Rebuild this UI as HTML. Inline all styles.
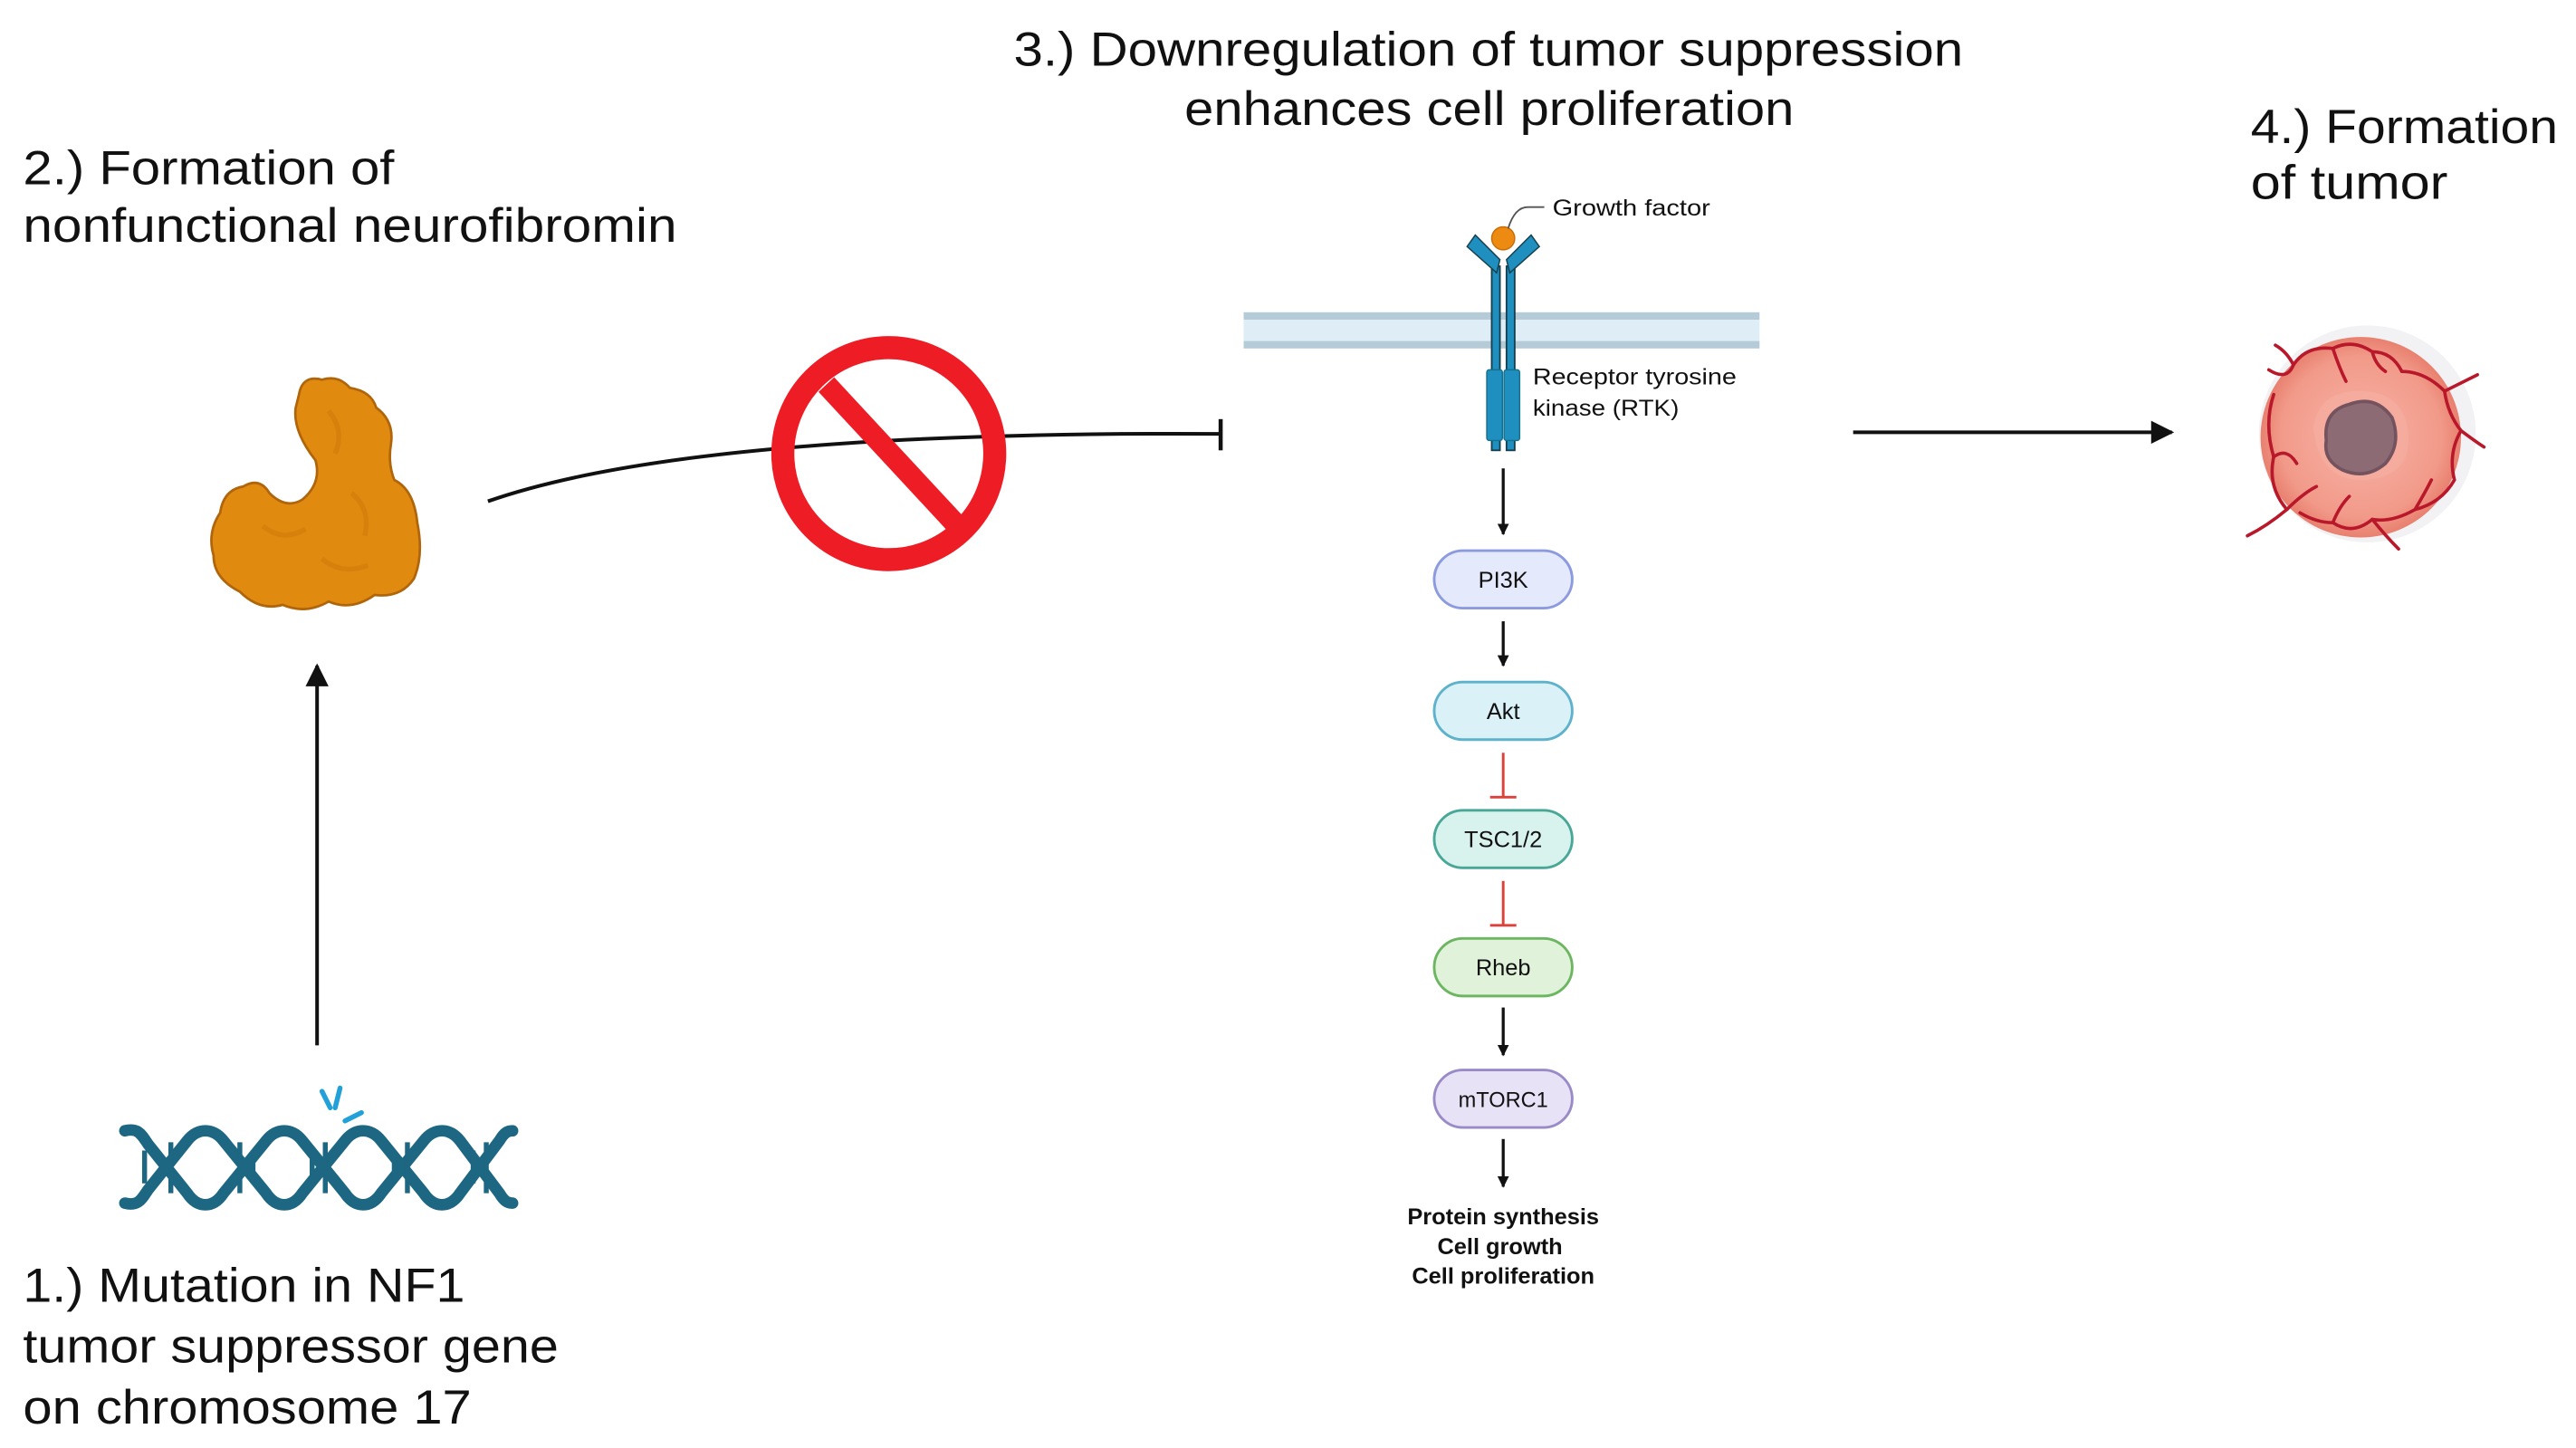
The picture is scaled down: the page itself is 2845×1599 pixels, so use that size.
<!DOCTYPE html>
<html><head><meta charset="utf-8"><style>
html,body{margin:0;padding:0;background:#fff;}
svg{display:block}
text{font-family:"Liberation Sans",sans-serif;fill:#111}
</style></head><body>
<svg width="2845" height="1599" viewBox="0 0 1568 881" preserveAspectRatio="none" xmlns="http://www.w3.org/2000/svg">
<defs>
<marker id="ah" viewBox="0 0 10 10" refX="9" refY="5" markerWidth="7" markerHeight="7" orient="auto" markerUnits="userSpaceOnUse"><path d="M0,0 L10,5 L0,10 z" fill="#111"/></marker>
<marker id="ahb" viewBox="0 0 10 10" refX="9" refY="5" markerWidth="16" markerHeight="14" orient="auto" markerUnits="userSpaceOnUse"><path d="M0,0 L10,5 L0,10 z" fill="#111"/></marker>
<radialGradient id="tg" cx="50%" cy="50%" r="50%"><stop offset="0" stop-color="#f6b3a6"/><stop offset="0.8" stop-color="#f29a8a"/><stop offset="1" stop-color="#e8806f"/></radialGradient>
</defs>
<rect width="1568" height="881" fill="#fff"/>

<!-- Titles -->
<text x="617" y="40" font-size="29" textLength="578" lengthAdjust="spacingAndGlyphs">3.) Downregulation of tumor suppression</text>
<text x="721" y="76" font-size="29" textLength="371" lengthAdjust="spacingAndGlyphs">enhances cell proliferation</text>
<text x="14" y="112" font-size="29" textLength="226" lengthAdjust="spacingAndGlyphs">2.) Formation of</text>
<text x="14" y="147" font-size="29" textLength="398" lengthAdjust="spacingAndGlyphs">nonfunctional neurofibromin</text>
<text x="1370" y="87" font-size="29" textLength="187" lengthAdjust="spacingAndGlyphs">4.) Formation</text>
<text x="1370" y="121" font-size="29" textLength="120" lengthAdjust="spacingAndGlyphs">of tumor</text>
<text x="14" y="792" font-size="29" textLength="269" lengthAdjust="spacingAndGlyphs">1.) Mutation in NF1</text>
<text x="14" y="829" font-size="29" textLength="326" lengthAdjust="spacingAndGlyphs">tumor suppressor gene</text>
<text x="14" y="866" font-size="29" textLength="273" lengthAdjust="spacingAndGlyphs">on chromosome 17</text>

<!-- Protein blob -->
<path d="M182,240 Q184,228 196,231 Q206,228 213,236 Q226,238 229,248 Q240,256 238,270 Q236,282 240,292 Q252,298 254,318 Q258,338 252,352 Q244,364 228,362 Q214,372 200,366 Q186,374 172,368 Q158,372 146,360 Q130,352 130,338 Q126,324 134,312 Q136,298 148,296 Q158,290 164,300 Q174,310 184,304 Q196,294 192,280 Q178,262 180,248 Z" fill="#e08a10" stroke="#b0650a" stroke-width="1.5"/>
<path d="M200,250 Q210,262 204,276 M214,300 Q226,310 222,326 M160,320 Q172,330 186,322 M196,340 Q208,350 224,344" stroke="#d07a08" stroke-width="3" fill="none" opacity="0.6"/>

<!-- Up arrow -->
<line x1="193" y1="636" x2="193" y2="405" stroke="#111" stroke-width="2.2" marker-end="url(#ahb)"/>

<!-- DNA -->
<g stroke="#1d6782" stroke-width="7" fill="none" stroke-linecap="round" stroke-linejoin="round">
<path d="M76,688 C84,686 86,690 90,696 L114,726 C118,732 122,733 125,733 C128,733 132,732 136,726 L162,694 C166,689 170,688 173,688 C176,688 180,689 184,694 L210,726 C214,732 218,733 221,733 C224,733 228,732 232,726 L258,694 C262,689 266,688 269,688 C272,688 276,689 280,694 L304,726 C307,731 309,732 312,732"/>
<path d="M76,732 C84,734 86,730 90,724 L114,694 C118,689 122,688 125,688 C128,688 132,689 136,694 L162,726 C166,732 170,733 173,733 C176,733 180,732 184,726 L210,694 C214,689 218,688 221,688 C224,688 228,689 232,694 L258,726 C262,732 266,733 269,733 C272,733 276,732 280,726 L304,694 C307,689 309,688 312,688"/>
</g>
<g stroke="#1d6782" stroke-width="3">
<line x1="88" y1="700" x2="88" y2="720"/><line x1="104" y1="695" x2="104" y2="726"/>
<line x1="146" y1="695" x2="146" y2="726"/><line x1="154" y1="700" x2="154" y2="720"/>
<line x1="190" y1="700" x2="190" y2="720"/><line x1="198" y1="695" x2="198" y2="726"/>
<line x1="240" y1="700" x2="240" y2="720"/><line x1="248" y1="695" x2="248" y2="726"/>
<line x1="288" y1="700" x2="288" y2="720"/><line x1="296" y1="695" x2="296" y2="726"/>
</g>
<g stroke="#22a0d8" stroke-width="3" stroke-linecap="round">
<line x1="196" y1="664" x2="201" y2="674"/><line x1="207" y1="662" x2="204" y2="674"/><line x1="220" y1="677" x2="210" y2="682"/>
</g>

<!-- Inhibition curve -->
<path d="M297,305 Q420,262 743,264" stroke="#111" stroke-width="2.2" fill="none"/>
<line x1="743" y1="255" x2="743" y2="274" stroke="#111" stroke-width="2.5"/>
<!-- Stop sign -->
<circle cx="541" cy="276" r="64.5" stroke="#ee1c24" stroke-width="14" fill="none"/>
<line x1="503" y1="234" x2="581" y2="318" stroke="#ee1c24" stroke-width="13"/>

<!-- Membrane -->
<rect x="757" y="190" width="314" height="22" fill="#deedf6"/>
<rect x="757" y="190" width="314" height="4.5" fill="#b6cbd8"/>
<rect x="757" y="207.5" width="314" height="4.5" fill="#b6cbd8"/>

<!-- Receptor -->
<g>
<rect x="908" y="162" width="5" height="112" fill="#1e8fbf" stroke="#163e4c" stroke-width="1"/>
<rect x="917" y="162" width="5" height="112" fill="#1e8fbf" stroke="#163e4c" stroke-width="1"/>
<path d="M893,150 L898,143 L913,158 L911,166 Z" fill="#1e8fbf" stroke="#163e4c" stroke-width="0.8"/>
<path d="M937,150 L932,143 L917,158 L919,166 Z" fill="#1e8fbf" stroke="#163e4c" stroke-width="0.8"/>
<rect x="905" y="225" width="9.5" height="43" rx="1.5" fill="#1e8fbf" stroke="#14708f" stroke-width="0.8"/>
<rect x="915.5" y="225" width="9.5" height="43" rx="1.5" fill="#1e8fbf" stroke="#14708f" stroke-width="0.8"/>
<circle cx="915" cy="145" r="7" fill="#ec8a12" stroke="#c96d06" stroke-width="0.8"/>
<path d="M918,139 Q922,126 930,126 L940,126" stroke="#555" stroke-width="1" fill="none"/>
</g>
<text x="945" y="131" font-size="14" fill="#333" textLength="96" lengthAdjust="spacingAndGlyphs">Growth factor</text>
<text x="933" y="234" font-size="14" fill="#333" textLength="124" lengthAdjust="spacingAndGlyphs">Receptor tyrosine</text>
<text x="933" y="253" font-size="14" fill="#333" textLength="89" lengthAdjust="spacingAndGlyphs">kinase (RTK)</text>

<!-- Pathway arrows -->
<g stroke="#111" stroke-width="1.8">
<line x1="915" y1="285" x2="915" y2="325" marker-end="url(#ah)"/>
<line x1="915" y1="378" x2="915" y2="405" marker-end="url(#ah)"/>
<line x1="915" y1="613" x2="915" y2="642" marker-end="url(#ah)"/>
<line x1="915" y1="693" x2="915" y2="722" marker-end="url(#ah)"/>
</g>
<g stroke="#e0403a" stroke-width="1.6">
<line x1="915" y1="458" x2="915" y2="485"/><line x1="907" y1="485" x2="923" y2="485"/>
<line x1="915" y1="536" x2="915" y2="563"/><line x1="907" y1="563" x2="923" y2="563"/>
</g>

<!-- Pills -->
<g font-size="14" text-anchor="middle">
<rect x="873" y="335" width="84" height="35" rx="17.5" fill="#e4e9fb" stroke="#8c9be0" stroke-width="1.6"/>
<text x="915" y="357.5" fill="#333">PI3K</text>
<rect x="873" y="415" width="84" height="35" rx="17.5" fill="#daf1f8" stroke="#5fb2cc" stroke-width="1.6"/>
<text x="915" y="437.5" fill="#333">Akt</text>
<rect x="873" y="493" width="84" height="35" rx="17.5" fill="#d8f2ee" stroke="#48a797" stroke-width="1.6"/>
<text x="915" y="515.5" fill="#333">TSC1/2</text>
<rect x="873" y="571" width="84" height="35" rx="17.5" fill="#e0f3da" stroke="#6cb662" stroke-width="1.6"/>
<text x="915" y="593.5" fill="#333">Rheb</text>
<rect x="873" y="651" width="84" height="35" rx="17.5" fill="#e8e2f6" stroke="#9a8bc8" stroke-width="1.6"/>
<text x="915" y="673.5" fill="#333" font-size="13">mTORC1</text>
</g>
<g font-size="14" text-anchor="middle" font-weight="bold">
<text x="915" y="745" fill="#222">Protein synthesis</text>
<text x="913" y="763" fill="#222">Cell growth</text>
<text x="915" y="781" fill="#222">Cell proliferation</text>
</g>

<!-- Right arrow -->
<line x1="1128" y1="263" x2="1322" y2="263" stroke="#111" stroke-width="2.2" marker-end="url(#ahb)"/>

<!-- Tumor -->
<circle cx="1441" cy="264" r="66" fill="#efeff1" opacity="0.8"/>
<circle cx="1437" cy="266" r="61" fill="url(#tg)"/>
<path d="M1408,260 Q1412,236 1440,238 Q1464,240 1466,264 Q1468,290 1440,292 Q1412,294 1408,260 Z" fill="#f6b2a4" opacity="0.5"/>
<path d="M1416,268 Q1414,250 1430,246 Q1446,240 1456,254 Q1462,270 1452,282 Q1440,292 1426,286 Q1414,280 1416,268 Z" fill="#8c6b74" stroke="#74535e" stroke-width="2"/>
<g stroke="#b8182a" stroke-width="2" fill="none" stroke-linecap="round">
<path d="M1381,225 Q1392,232 1396,222 Q1404,210 1420,212 Q1432,206 1444,214 Q1456,214 1462,226 Q1476,226 1488,238 L1508,228"/>
<path d="M1396,222 Q1392,214 1385,210 M1420,212 Q1424,224 1428,232 M1444,214 Q1446,222 1452,226"/>
<path d="M1384,240 Q1378,258 1384,278 Q1380,296 1392,310 Q1380,320 1368,326"/>
<path d="M1384,278 Q1392,272 1398,282 M1392,310 Q1402,300 1410,296"/>
<path d="M1488,238 Q1490,252 1498,262 Q1506,268 1512,272 M1498,262 Q1490,276 1494,292 Q1486,306 1470,310 Q1456,318 1444,316 Q1432,326 1420,318 Q1410,318 1400,312"/>
<path d="M1444,316 Q1452,326 1460,334 M1420,318 Q1424,308 1430,302 M1470,310 Q1476,300 1480,292"/>
</g>
</svg>
</body></html>
